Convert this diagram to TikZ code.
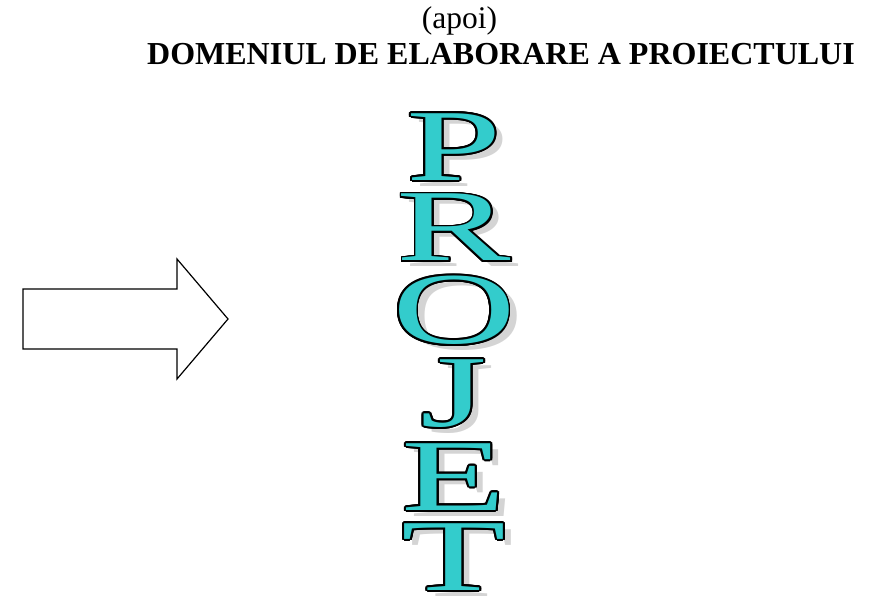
\documentclass[tikz,border=0pt]{standalone}
\usepackage{fontspec}
\setmainfont{Liberation Serif}
\usetikzlibrary{calc}
\definecolor{letterteal}{RGB}{51,204,204}
\definecolor{shadowgray}{RGB}{212,212,212}
\tikzset{
  bigletter/.style={inner sep=0pt, font=\fontsize{102}{102}\selectfont},
  titletext/.style={inner sep=0pt, anchor=base},
}
\newcommand{\wideletter}[1]{\scalebox{1.68}[1]{#1}}

\begin{document}
\begin{tikzpicture}[x=1pt,y=-1pt]
\useasboundingbox (0,0) rectangle (872,596);
\node[titletext, font=\fontsize{31.5}{36}\selectfont] (apoi) at (459.5,29) {(apoi)};
\node[titletext, font=\fontsize{32}{38}\selectfont\bfseries] (domeniul) at (501,65) {DOMENIUL DE ELABORARE A PROIECTULUI};
% block arrow
\draw[line width=1.2pt] (23,289) -- (177,289) -- (177,259) -- (228,319) -- (177,379) -- (177,349) -- (23,349) -- cycle;
% letters: shadow, outline, fill
\foreach \l/\y in {P/147,R/227.5,O/310.5,J/393.5,E/477,T/557}{
  \node[bigletter, text=shadowgray] at (462,\y+6) {\wideletter{\l}};
  \foreach \a in {0,20,...,340}
    \node[bigletter, text=black] at ($(454,\y)+(\a:1.8)$) {\wideletter{\l}};
  \node[bigletter, text=letterteal] (\l) at (454,\y) {\wideletter{\l}};
}
\end{tikzpicture}
\end{document}
